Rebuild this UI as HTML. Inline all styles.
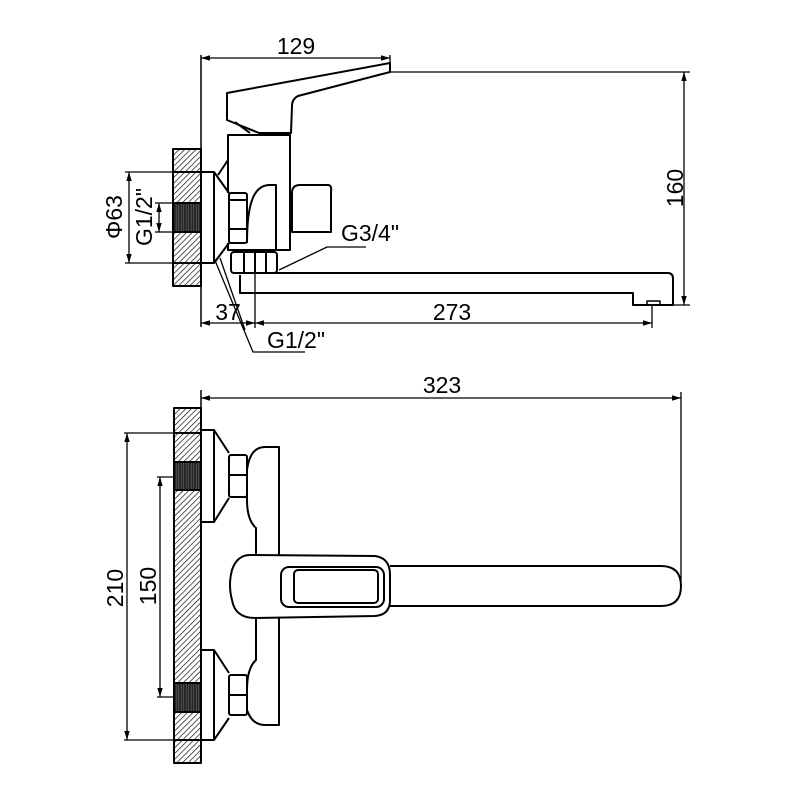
<!DOCTYPE html>
<html><head><meta charset="utf-8"><style>html,body{margin:0;padding:0;background:#fff}svg{display:block}</style></head>
<body>
<svg width="800" height="800" viewBox="0 0 800 800" xmlns="http://www.w3.org/2000/svg">
<defs>
<pattern id="h" width="4" height="4" patternUnits="userSpaceOnUse" patternTransform="rotate(45)">
<rect width="4" height="4" fill="#fff"/><line x1="0" y1="0" x2="0" y2="4" stroke="#000" stroke-width="1.3"/>
</pattern>
<pattern id="t" width="2.5" height="4" patternUnits="userSpaceOnUse">
<rect width="2.5" height="4" fill="#222"/><line x1="1.2" y1="0" x2="1.2" y2="4" stroke="#666" stroke-width="0.7"/>
</pattern>
<marker id="a" viewBox="0 0 10 10" refX="10" refY="5" markerWidth="9" markerHeight="9" orient="auto-start-reverse" markerUnits="userSpaceOnUse">
<path d="M0,2 L10,5 L0,8 Z" fill="#000"/></marker>
</defs>
<g fill="none" stroke="#000" stroke-width="2" stroke-linejoin="round">
<!-- ===== TOP VIEW ===== -->
<rect x="173" y="149" width="28" height="137" fill="url(#h)"/>
<rect x="173" y="203" width="28" height="29" fill="url(#t)"/>
<line x1="173" y1="172" x2="201" y2="172"/><line x1="173" y1="263" x2="201" y2="263"/>
<line x1="201" y1="55" x2="201" y2="327" stroke-width="1.5"/>
<rect x="201" y="172" width="13" height="91"/>
<path d="M214,172 L229,193 M229,243 L214,263"/>
<rect x="229" y="193" width="18" height="50" rx="2"/>
<line x1="229" y1="200" x2="247" y2="200"/><line x1="229" y1="229" x2="247" y2="229"/>
<path d="M247,243 C247,200 255,185 270,185 L276,185 L276,250 L247,250"/>
<path d="M228,193 L228,135 L290,135 L290,250 L228,250 L228,243"/>
<path d="M228,160 L218,175"/>
<path d="M292,232 L292,193 Q292,185 300,185 L328,185 Q332,185 331,192 L331,232 Z"/>
<path d="M227,93 L390,63 L390,72 L298,96 Q292,99 292,106 L291,133 L259,133 L227,120 Z"/>
<path d="M235,122 L250,133"/>
<rect x="231" y="252" width="46" height="21" rx="3"/>
<line x1="244" y1="252" x2="244" y2="273"/><line x1="255" y1="252" x2="255" y2="273"/><line x1="266" y1="252" x2="266" y2="273"/>
<path d="M235,273 L668,273 Q673,273 673,279 L673,305 L633,305 L633,293 L240,293 L240,275"/>
<rect x="647" y="301" width="13" height="4" stroke-width="1.5"/>
<g stroke-width="1.3">
<line x1="201" y1="58" x2="390" y2="58" marker-start="url(#a)" marker-end="url(#a)"/>
<line x1="390" y1="55" x2="390" y2="63"/>
<line x1="390" y1="72" x2="690" y2="72"/>
<line x1="673" y1="305" x2="690" y2="305"/>
<line x1="684" y1="72" x2="684" y2="305" marker-start="url(#a)" marker-end="url(#a)"/>
<line x1="201" y1="323" x2="255" y2="323" marker-start="url(#a)" marker-end="url(#a)"/>
<line x1="255" y1="323" x2="652" y2="323" marker-start="url(#a)" marker-end="url(#a)"/>
<line x1="255" y1="273" x2="255" y2="328"/>
<line x1="652" y1="305" x2="652" y2="328"/>
<line x1="125" y1="172" x2="201" y2="172"/><line x1="125" y1="263" x2="201" y2="263"/>
<line x1="129" y1="172" x2="129" y2="263" marker-start="url(#a)" marker-end="url(#a)"/>
<line x1="155" y1="203" x2="173" y2="203"/><line x1="155" y1="232" x2="173" y2="232"/>
<line x1="159" y1="203" x2="159" y2="232" marker-start="url(#a)" marker-end="url(#a)"/>
<path d="M279,270 L327,247 L366,247"/>
<path d="M214,258 L253,352 L305,352 M220,258 L245,330"/>
</g>
<!-- ===== BOTTOM VIEW ===== -->
<rect x="174" y="408" width="27" height="355" fill="url(#h)"/>
<rect x="174" y="462" width="27" height="28" fill="url(#t)"/>
<rect x="174" y="683" width="27" height="29" fill="url(#t)"/>
<line x1="174" y1="433" x2="201" y2="433"/><line x1="174" y1="740" x2="201" y2="740"/>
<line x1="201" y1="390" x2="201" y2="408" stroke-width="1.5"/>
<rect x="201" y="430" width="13" height="92"/>
<path d="M214,430 L229,453 M229,498 L214,522"/>
<rect x="229" y="455" width="18" height="42" rx="2"/><line x1="229" y1="475" x2="247" y2="475"/>
<rect x="201" y="650" width="13" height="90"/>
<path d="M214,650 L229,673 M229,718 L214,740"/>
<rect x="229" y="675" width="18" height="40" rx="2"/><line x1="229" y1="695" x2="247" y2="695"/>
<path d="M279,555 L279,447 L265,447 Q250,447 247,470 L247,500 Q247,520 256,528 L256,555 M256,618 L256,660 Q247,668 247,690 L247,710 Q252,725 265,725 L279,725 L279,618"/>
<path d="M250,555 L375,556 Q390,558 390,575 L390,600 Q390,615 375,616 L255,618 Q235,618 232,600 Q228,585 232,570 Q237,555 250,555 Z"/>
<rect x="281" y="567" width="103" height="40" rx="8"/>
<rect x="294" y="570" width="84" height="33" rx="4"/>
<path d="M390,566 L661,566 Q681,566 681,586 Q681,606 661,606 L390,606"/>
<g stroke-width="1.3">
<line x1="201" y1="398" x2="681" y2="398" marker-start="url(#a)" marker-end="url(#a)"/>
<line x1="681" y1="392" x2="681" y2="580"/>
<line x1="124" y1="433" x2="174" y2="433"/><line x1="124" y1="740" x2="174" y2="740"/>
<line x1="127" y1="433" x2="127" y2="740" marker-start="url(#a)" marker-end="url(#a)"/>
<line x1="157" y1="477" x2="174" y2="477"/><line x1="157" y1="697" x2="174" y2="697"/>
<line x1="160" y1="477" x2="160" y2="697" marker-start="url(#a)" marker-end="url(#a)"/>
</g>
</g>
<g font-family="Liberation Sans, Arial, sans-serif" font-size="23" fill="#000" text-anchor="middle">
<text x="296" y="54">129</text>
<text x="452" y="320">273</text>
<text x="228" y="320">37</text>
<text x="370" y="241">G3/4"</text>
<text x="296" y="348">G1/2"</text>
<text x="442" y="393">323</text>
<text transform="translate(683,188) rotate(-90)">160</text>
<text transform="translate(122,217) rotate(-90)">Φ63</text>
<text transform="translate(152,217) rotate(-90)">G1/2"</text>
<text transform="translate(123,588) rotate(-90)">210</text>
<text transform="translate(156,586) rotate(-90)">150</text>
</g>
</svg>
</body></html>
